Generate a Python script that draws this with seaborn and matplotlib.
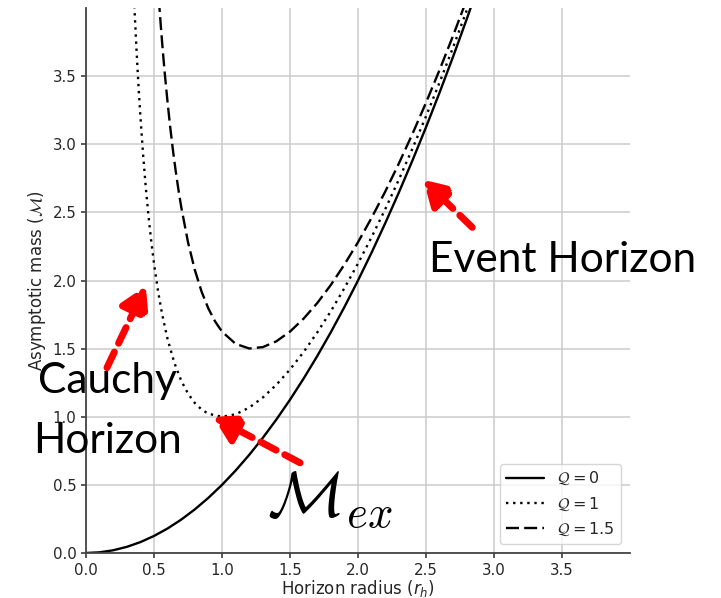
import numpy as np
import pandas as pd
import matplotlib
matplotlib.use("Agg")
import matplotlib.pyplot as plt
import seaborn as sns

# ---- data ----
r_q0 = [0.0, 0.1, 0.2, 0.3, 0.4, 0.5, 0.6, 0.7, 0.8, 0.9, 1.0, 1.1, 1.2, 1.3, 1.4, 1.5,
        1.6, 1.7, 1.8, 1.9, 2.0, 2.1, 2.2, 2.3, 2.4, 2.5, 2.6, 2.7, 2.8, 2.9]
m_q0 = [0.0, 0.005, 0.02, 0.045, 0.08, 0.125, 0.18, 0.245, 0.32, 0.405, 0.5, 0.605, 0.72,
        0.845, 0.98, 1.125, 1.28, 1.445, 1.62, 1.805, 2.0, 2.205, 2.42, 2.645, 2.88, 3.125,
        3.38, 3.645, 3.92, 4.205]

r_q1 = [0.35, 0.36, 0.37, 0.38, 0.39, 0.40, 0.42, 0.44, 0.46, 0.48, 0.50, 0.53, 0.56, 0.60,
        0.65, 0.70, 0.75, 0.80, 0.85, 0.90, 1.0, 1.1, 1.2, 1.3, 1.4, 1.5, 1.6, 1.7, 1.8,
        1.9, 2.0, 2.1, 2.2, 2.3, 2.4, 2.5, 2.6, 2.7, 2.8, 2.9]
m_q1 = [4.143, 3.923, 3.721, 3.535, 3.363, 3.205, 2.923, 2.679, 2.469, 2.285, 2.125, 1.920,
        1.751, 1.569, 1.395, 1.265, 1.170, 1.101, 1.053, 1.022, 1.0, 1.018, 1.067, 1.141,
        1.235, 1.347, 1.475, 1.618, 1.774, 1.944, 2.125, 2.318, 2.523, 2.740, 2.967, 3.205,
        3.454, 3.714, 3.984, 4.265]

r_q15 = [0.53, 0.54, 0.55, 0.56, 0.57, 0.58, 0.60, 0.62, 0.64, 0.66, 0.68, 0.70, 0.75, 0.80,
         0.85, 0.90, 0.95, 1.0, 1.1, 1.2, 1.3, 1.4, 1.5, 1.6, 1.7, 1.8, 1.9, 2.0, 2.1, 2.2,
         2.3, 2.4, 2.5, 2.6, 2.7, 2.8]
m_q15 = [4.145, 4.004, 3.870, 3.744, 3.625, 3.512, 3.305, 3.119, 2.951, 2.800, 2.664, 2.541,
         2.281, 2.078, 1.918, 1.794, 1.698, 1.625, 1.535, 1.501, 1.511, 1.554, 1.625, 1.720,
         1.834, 1.967, 2.117, 2.281, 2.460, 2.652, 2.858, 3.075, 3.305, 3.546, 3.799, 4.064]

series_labels = [r"$\mathcal{Q}=0$", r"$\mathcal{Q}=1$", r"$\mathcal{Q}=1.5$"]
tick_values = [0.0, 0.5, 1.0, 1.5, 2.0, 2.5, 3.0, 3.5]

df = pd.concat([
    pd.DataFrame({"r": r_q0, "M": m_q0, "Q": series_labels[0]}),
    pd.DataFrame({"r": r_q1, "M": m_q1, "Q": series_labels[1]}),
    pd.DataFrame({"r": r_q15, "M": m_q15, "Q": series_labels[2]}),
], ignore_index=True)

sns.set_theme(style="ticks", rc={
    "axes.grid": True, "grid.color": "#cccccc", "grid.linewidth": 1.1,
    "xtick.labelsize": 10.8, "ytick.labelsize": 10.8, "axes.labelsize": 12,
    "xtick.major.size": 3.5, "ytick.major.size": 3.5,
    "xtick.major.pad": 3.5, "ytick.major.pad": 3.5,
    "axes.edgecolor": "#444444", "axes.linewidth": 1.3,
    "xtick.color": "#444444", "ytick.color": "#444444",
    "text.color": "#262626", "axes.labelcolor": "#262626",
})
plt.rcParams["font.family"] = ["DejaVu Sans"]

fig = plt.figure(figsize=(7.21, 5.98), dpi=100)
ax = fig.add_axes([86 / 721, 1 - 553 / 598, (630 - 86) / 721, (553 - 8) / 598])

dash_map = {series_labels[0]: "", series_labels[1]: (1, 2), series_labels[2]: (5.5, 2.2)}
sns.lineplot(data=df, x="r", y="M", style="Q", style_order=series_labels,
             dashes=dash_map, color="black", sort=False, estimator=None,
             linewidth=1.7, ax=ax, legend=False)

for line, lab in zip(ax.lines, series_labels):
    line.set_label(lab)

ax.set_xlim(0, 4)
ax.set_ylim(0, 4)
ax.set_xticks(tick_values)
ax.set_yticks(tick_values)
ax.tick_params(labelcolor="#262626")
ax.set_xlabel(r"Horizon radius ($r_h$)", labelpad=0)
ax.set_ylabel(r"Asymptotic mass ($\mathcal{M}$)", labelpad=3)
sns.despine(ax=ax)

leg = ax.legend(loc="lower right", handlelength=2.4, fontsize=11.5, frameon=True,
                borderaxespad=0.55)

# ---- annotations ----
arrow_kw = dict(arrowstyle="-|>,head_length=0.85,head_width=0.5", color="red",
                lw=5, linestyle=(0, (2.5, 1.4)), shrinkA=0, shrinkB=0,
                mutation_scale=18)
ax.annotate("", xy=(2.48, 2.74), xytext=(2.84, 2.39), arrowprops=arrow_kw,
            annotation_clip=False)
ax.annotate("", xy=(0.44, 1.96), xytext=(0.154, 1.36), arrowprops=arrow_kw,
            annotation_clip=False)
ax.annotate("", xy=(0.934, 1.0), xytext=(1.574, 0.662), arrowprops=arrow_kw,
            annotation_clip=False)

big_font = dict(family="Lato", fontsize=30.6, color="black", clip_on=False)
ax.text(2.522, 2.059, "Event Horizon", ha="left", va="baseline", **big_font)
ax.text(0.158, 1.176, "Cauchy", ha="center", va="baseline", **big_font)
ax.text(0.158, 0.735, "Horizon", ha="center", va="baseline", **big_font)
ax.text(1.331, 0.257, r"$\mathcal{M}_{ex}$", ha="left", va="baseline",
        fontsize=46, math_fontfamily="cm", color="black", clip_on=False)

fig.savefig("out.png", dpi=100)
